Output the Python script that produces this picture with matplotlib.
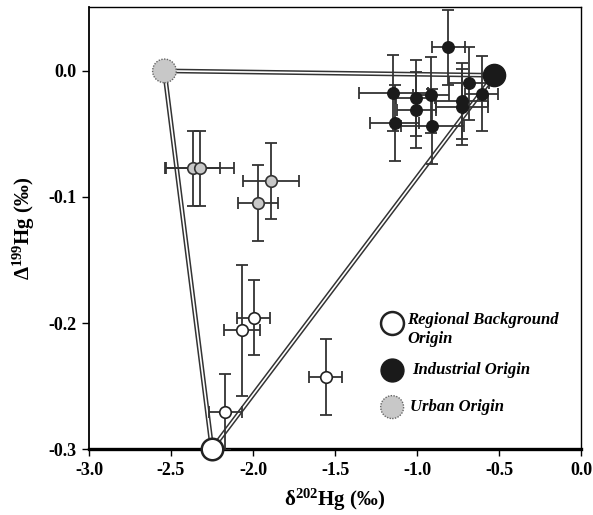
import matplotlib
matplotlib.use("Agg")
import matplotlib.pyplot as plt

plt.rcParams['font.family'] = ['Liberation Serif', 'DejaVu Serif']
plt.rcParams['mathtext.fontset'] = 'custom'
plt.rcParams['mathtext.rm'] = 'Liberation Serif:bold'
plt.rcParams['mathtext.it'] = 'Liberation Serif:bold:italic'
plt.rcParams['mathtext.bf'] = 'Liberation Serif:bold'

# Industrial samples
ind_x = [-0.81, -1.144, -1.136, -1.008, -1.004, -0.917, -0.907, -0.726, -0.726, -0.683, -0.606]
ind_y = [0.0186, -0.0177, -0.0415, -0.0217, -0.0312, -0.019, -0.044, -0.0238, -0.0285, -0.0098, -0.018]
ind_xerr = [0.10, 0.21, 0.15, 0.12, 0.12, 0.11, 0.19, 0.16, 0.16, 0.12, 0.10]
ind_yerr = [0.030, 0.030, 0.030, 0.030, 0.030, 0.030, 0.030, 0.030, 0.030, 0.029, 0.030]

# Urban samples
urb_x = [-2.365, -2.324, -1.890, -1.970]
urb_y = [-0.0774, -0.0774, -0.0875, -0.105]
urb_xerr = [0.165, 0.21, 0.17, 0.12]
urb_yerr = [0.030, 0.030, 0.030, 0.030]

# Regional background samples
reg_x = [-1.996, -2.067, -2.168, -1.556]
reg_y = [-0.1957, -0.2058, -0.2705, -0.2426]
reg_xerr = [0.10, 0.107, 0.10, 0.10]
reg_yerr = [0.030, 0.052, 0.030, 0.030]

# End-members
end_labels = ['Regional Background\nOrigin', 'Industrial Origin', 'Urban Origin']
end_x = [-2.25, -0.53, -2.54]
end_y = [-0.300, -0.0035, 0.0]

xticks = [-3.0, -2.5, -2.0, -1.5, -1.0, -0.5, 0.0]
yticks = [0.0, -0.1, -0.2, -0.3]

fig = plt.figure(figsize=(5.93, 5.15), dpi=100)
ax = fig.add_axes([0.150, 0.128, 0.830, 0.858])

# triangle (double lines)
tri_x = [end_x[2], end_x[1], end_x[0], end_x[2]]
tri_y = [end_y[2], end_y[1], end_y[0], end_y[2]]
for i in range(3):
    xs = [tri_x[i], tri_x[i + 1]]
    ys = [tri_y[i], tri_y[i + 1]]
    ax.plot(xs, ys, color='#333333', lw=3.4, solid_capstyle='butt', zorder=2, clip_on=False)
    ax.plot(xs, ys, color='white', lw=1.2, solid_capstyle='butt', zorder=2.1, clip_on=False)

eb_kw = dict(fmt='none', ecolor='#333333', elinewidth=1.3, capsize=4.5, capthick=1.3, zorder=3)
ax.errorbar(ind_x, ind_y, xerr=ind_xerr, yerr=ind_yerr, **eb_kw)
ax.errorbar(urb_x, urb_y, xerr=urb_xerr, yerr=urb_yerr, **eb_kw)
ax.errorbar(reg_x, reg_y, xerr=reg_xerr, yerr=reg_yerr, **eb_kw)

ax.plot(ind_x, ind_y, 'o', ms=8.3, mfc='#1a1a1a', mec='#1a1a1a', mew=1, zorder=4)
ax.plot(urb_x, urb_y, 'o', ms=8.3, mfc='#c8c8c8', mec='#333333', mew=1.2, zorder=4)
ax.plot(reg_x, reg_y, 'o', ms=8.3, mfc='white', mec='#222222', mew=1.2, zorder=4)

# end members
ax.plot(end_x[0], end_y[0], 'o', ms=15.5, mfc='white', mec='#222222', mew=1.8, zorder=5, clip_on=False)
ax.plot(end_x[1], end_y[1], 'o', ms=16, mfc='#1a1a1a', mec='#1a1a1a', zorder=5)
ax.scatter([end_x[2]], [end_y[2]], s=17 ** 2, c='#c8c8c8', edgecolors='#666666',
           linewidths=1.0, linestyles=(0, (1, 1)), zorder=5)

ax.set_xlim(-3.0, 0.0)
ax.set_ylim(-0.3, 0.0505)
ax.set_xticks(xticks)
ax.set_yticks(yticks)
ax.set_xticklabels([f'{v:.1f}' for v in xticks], fontweight='bold', fontsize=13)
ax.set_yticklabels([f'{v:.1f}' for v in yticks], fontweight='bold', fontsize=13)
ax.tick_params(direction='out', length=5, width=1.0, pad=4)
ax.tick_params(top=False, right=False)
for s in ['top', 'right']:
    ax.spines[s].set_linewidth(1.0)
ax.spines['left'].set_linewidth(1.3)
ax.spines['bottom'].set_linewidth(2.4)

ax.set_xlabel(r'$\mathrm{δ^{202}Hg}$ (‰)', fontsize=15, fontweight='bold', labelpad=6)
ax.set_ylabel(r'$\mathrm{Δ^{199}Hg}$ (‰)', fontsize=15, fontweight='bold', labelpad=8)

# legend drawn manually in axes coordinates
leg_mx = 0.616
leg_tx = [0.646, 0.657, 0.652]
leg_y = [0.285, 0.179, 0.095]
leg_style = [dict(mfc='white', mec='#222222', mew=1.8),
             dict(mfc='#1a1a1a', mec='#1a1a1a', mew=1.0),
             dict(mfc='#c8c8c8', mec='#888888', mew=1.0)]
for lab, tx, ly, st in zip(end_labels, leg_tx, leg_y, leg_style):
    if st['mfc'] == '#c8c8c8':
        ax.scatter([leg_mx], [ly], s=16.5 ** 2, c='#c8c8c8', edgecolors='#666666',
                   linewidths=1.0, linestyles=(0, (1, 1)), transform=ax.transAxes, zorder=6)
    else:
        ax.plot([leg_mx], [ly], 'o', ms=16.5, transform=ax.transAxes, zorder=6, **st)
    ax.text(tx, ly, lab, transform=ax.transAxes, va='top' if '\n' in lab else 'center',
            ha='left', fontsize=12, fontweight='bold', style='italic', linespacing=1.3)
    if '\n' in lab:
        ax.texts[-1].set_y(ly + 0.026)

fig.savefig('out.png', dpi=100)
